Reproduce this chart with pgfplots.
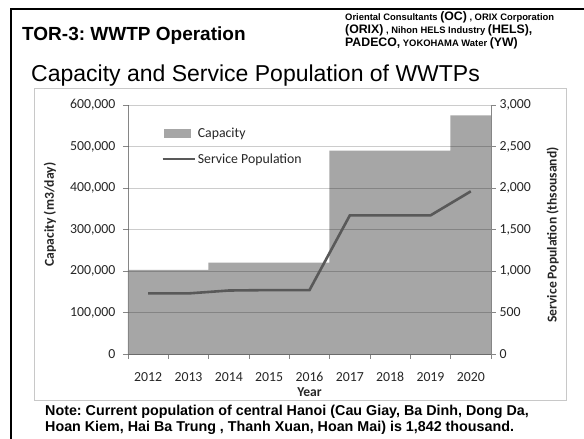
\documentclass[border=0pt]{standalone}
\usepackage{pgfplots}
\pgfplotsset{compat=1.18}
\usepackage{fontspec}
\setmainfont{Carlito}
\newfontfamily\arial{Liberation Sans}
\frenchspacing

\definecolor{barcol}{HTML}{A6A6A6}
\definecolor{linecol}{HTML}{595959}
\definecolor{axiscol}{HTML}{868686}
\definecolor{boxcol}{HTML}{C8C8C8}
\definecolor{txtcol}{HTML}{262626}

\newcommand{\smallco}{\fontsize{9.4}{11}\selectfont}
\newcommand{\bigco}{\fontsize{12.3}{14}\selectfont}

\begin{document}
\begin{tikzpicture}[x=1pt,y=1pt]
\useasboundingbox (0,0) rectangle (584,439);
\fill[white] (0,0) rectangle (584,439);

% slide frame
\draw[line width=2.6pt] (11,0) -- (11,430) -- (584,430);

% slide headings
\node[anchor=base west, inner sep=0pt] at (22,398)
  {\arial\bfseries\fontsize{19}{22}\selectfont TOR-3: WWTP Operation};
\node[anchor=base west, inner sep=0pt] at (345,418)
  {\arial\bfseries{\smallco Oriental Consultants }{\bigco(OC)}{\smallco\ , ORIX Corporation}};
\node[anchor=base west, inner sep=0pt] at (345,405)
  {\arial\bfseries{\bigco(ORIX)}{\smallco\ , Nihon HELS Industry }{\bigco(HELS),}};
\node[anchor=base west, inner sep=0pt] at (345,392)
  {\arial\bfseries{\bigco PADECO,}{\smallco\ YOKOHAMA Water }{\bigco(YW)}};
\node[anchor=base west, inner sep=0pt] at (31,357)
  {\arial\fontsize{23}{26}\selectfont Capacity and Service Population of WWTPs};

% chart frame
\draw[boxcol, line width=1pt] (34.5,38) rectangle (566,350);

% note under the chart
\node[anchor=base west, inner sep=0pt] at (45,23)
  {\arial\bfseries\fontsize{14.3}{16}\selectfont Note: Current population of central Hanoi (Cau Giay, Ba Dinh, Dong Da,};
\node[anchor=base west, inner sep=0pt] at (45,7)
  {\arial\bfseries\fontsize{14.3}{16}\selectfont Hoan Kiem, Hai Ba Trung , Thanh Xuan, Hoan Mai) is 1,842 thousand.};

\pgfplotsset{
  chartbase/.style={
    at={(128pt,85pt)}, anchor=south west,
    scale only axis, width=363pt, height=249pt,
    xmin=-0.5, xmax=8.5,
    tick align=outside,
    axis line style={axiscol, line width=0.8pt},
    tick style={axiscol, line width=0.8pt},
    major tick length=5pt,
    tick label style={font=\fontsize{13.8}{16}\selectfont, text=txtcol},
    label style={font=\bfseries\fontsize{13.6}{16}\selectfont, text=txtcol},
    /pgf/number format/assume math mode=true,
    /pgf/number format/.cd, fixed, 1000 sep={,},
  }
}

% capacity (left axis)
\begin{axis}[chartbase,
  axis on top,
  axis x line*=bottom, axis y line*=left,
  ymin=0, ymax=600000,
  ytick={0,100000,...,600000},
  scaled y ticks=false,
  yticklabel style={xshift=-4pt},
  xtick={0,...,8},
  xticklabels={2012,2013,2014,2015,2016,2017,2018,2019,2020},
  xticklabel style={yshift=-10pt},
  minor xtick={-0.5,0.5,...,8.5},
  major x tick style={draw=none},
  minor tick length=5pt,
  xlabel={Year},
  xlabel style={at={(axis description cs:0.5,-0.153)}, anchor=center},
  ylabel={Capacity (m3/day)},
  ylabel style={at={(axis description cs:-0.215,0.56)}, anchor=center, rotate=0},
]
\addplot[ybar, bar width=1.01, fill=barcol, draw=none] coordinates {
  (0,203000) (1,203000) (2,220000) (3,220000) (4,220000)
  (5,490000) (6,490000) (7,490000) (8,575000)
};
\end{axis}

% service population (right axis)
\begin{axis}[chartbase,
  axis x line=none, axis y line*=right,
  ymin=0, ymax=3000,
  ytick={0,500,...,3000},
  ymajorgrids,
  grid style={black, opacity=0.2, line width=0.8pt},
  ylabel={Service Population (thsousand)},
  ylabel style={at={(axis description cs:1.17,0.478)}, anchor=center},
  legend style={at={(axis description cs:0.091,0.918)}, anchor=north west,
    draw=none, fill=none, font=\fontsize{13.8}{16}\selectfont, text=txtcol,
    row sep=11pt, inner sep=0pt},
  legend cell align=left,
]
\addlegendimage{legend image code/.code={\fill[barcol] (2pt,-4pt) rectangle (28pt,4pt);}}
\addlegendentry{Capacity}
\addplot[color=linecol, line width=2.6pt,
  legend image code/.code={\draw[linecol, line width=2.6pt] (0pt,0pt) -- (32pt,0pt);}]
  coordinates {
  (0,730) (1,730) (2,765) (3,770) (4,770)
  (5,1670) (6,1670) (7,1670) (8,1960)
};
\addlegendentry{Service Population}
\end{axis}
\end{tikzpicture}
\end{document}
